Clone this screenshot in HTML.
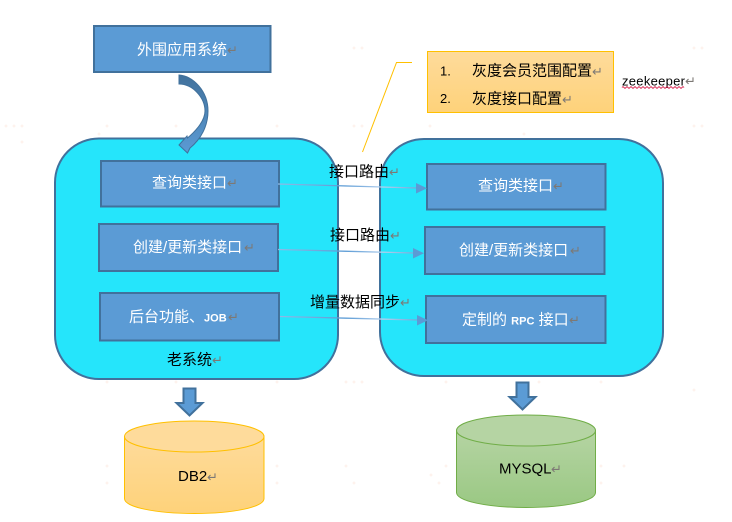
<!DOCTYPE html>
<html>
<head>
<meta charset="utf-8">
<style>
html,body{margin:0;padding:0;background:#fff;width:732px;height:522px;overflow:hidden}
svg{display:block}
text{font-family:"Liberation Sans","WenQuanYi Zen Hei","Noto Sans CJK SC",sans-serif;font-size:15px;fill:#000}
.w{fill:#fff}
.r{fill:#7d7975;font-size:13px;font-family:"DejaVu Sans",sans-serif}
</style>
</head>
<body>
<svg width="732" height="522" viewBox="0 0 732 522" xmlns="http://www.w3.org/2000/svg">
<defs>
<linearGradient id="o" x1="0" y1="0" x2="0" y2="1"><stop offset="0" stop-color="#fedb9b"/><stop offset="1" stop-color="#fed27a"/></linearGradient>
<linearGradient id="g" x1="0" y1="0" x2="0" y2="1"><stop offset="0" stop-color="#b5d4a3"/><stop offset="1" stop-color="#9ac883"/></linearGradient>
<linearGradient id="c" x1="0" y1="0" x2="0" y2="1"><stop offset="0" stop-color="#41719c"/><stop offset="1" stop-color="#5b9bd5"/></linearGradient>
<linearGradient id="l" gradientUnits="userSpaceOnUse" x1="278" y1="0" x2="428" y2="0"><stop offset="0" stop-color="#8fbbe6"/><stop offset="0.45" stop-color="#5b9bd5"/><stop offset="0.7" stop-color="#b4d0ee"/><stop offset="1" stop-color="#5b9bd5"/></linearGradient>
<path id="x" d="M-1.500,0H1.500M0,-1.500V1.500" stroke="#fdeee7" stroke-width="1" fill="none"/>
</defs>

<g>
<use href="#x" x="6" y="126"/><use href="#x" x="14" y="126"/><use href="#x" x="22" y="126"/><use href="#x" x="22" y="142"/>
<use href="#x" x="107" y="126"/><use href="#x" x="99" y="134"/><use href="#x" x="176" y="126"/><use href="#x" x="277" y="126"/>
<use href="#x" x="354" y="126"/><use href="#x" x="362" y="126"/><use href="#x" x="430" y="126"/><use href="#x" x="524" y="134"/><use href="#x" x="694" y="126"/><use href="#x" x="702" y="126"/>
<use href="#x" x="354" y="48"/><use href="#x" x="362" y="48"/><use href="#x" x="694" y="48"/><use href="#x" x="702" y="48"/>
<use href="#x" x="107" y="382"/><use href="#x" x="176" y="382"/><use href="#x" x="277" y="382"/>
<use href="#x" x="346" y="382"/><use href="#x" x="354" y="382"/><use href="#x" x="362" y="382"/><use href="#x" x="446" y="382"/><use href="#x" x="539" y="382"/><use href="#x" x="601" y="382"/><use href="#x" x="694" y="390"/>
<use href="#x" x="107" y="466"/><use href="#x" x="277" y="466"/><use href="#x" x="346" y="466"/><use href="#x" x="431" y="475"/><use href="#x" x="446" y="466"/><use href="#x" x="601" y="466"/><use href="#x" x="624" y="466"/>
<use href="#x" x="107" y="483"/><use href="#x" x="277" y="483"/><use href="#x" x="354" y="483"/><use href="#x" x="439" y="483"/><use href="#x" x="532" y="483"/><use href="#x" x="601" y="483"/>
</g>

<!-- containers -->
<rect x="55" y="138.500" width="283" height="240.500" rx="44" ry="44" fill="#25e5fb" stroke="#41719c" stroke-width="2"/>
<rect x="380" y="139" width="283" height="237" rx="44" ry="44" fill="#25e5fb" stroke="#41719c" stroke-width="2"/>

<!-- top box -->
<rect x="94" y="26" width="176.500" height="46" fill="#5b9bd5" stroke="#41719c" stroke-width="2"/>
<text class="w" x="137" y="54.500">外围应用系统</text><text class="r" x="227" y="54.500">↵</text>

<!-- curved arrow -->
<path d="M179,75 C193,76 208,91 208,111 C208,126 201,139 190,148 L187.500,153 L179,145 L187,136 L187.500,138 C197,130 205,120 205,111 C205,98 193,84 179,84 Z" fill="url(#c)" stroke="#41719c" stroke-width="1"/>

<!-- left boxes -->
<rect x="101" y="161" width="178" height="45.500" fill="#5b9bd5" stroke="#41719c" stroke-width="2"/>
<text class="w" x="152" y="187.500">查询类接口</text><text class="r" x="227" y="187.500">↵</text>
<rect x="99" y="224" width="179" height="47" fill="#5b9bd5" stroke="#41719c" stroke-width="2"/>
<text class="w" x="133" y="252">创建/更新类接口</text><text class="r" x="244" y="252">↵</text>
<rect x="100" y="293" width="179" height="47.500" fill="#5b9bd5" stroke="#41719c" stroke-width="2"/>
<text class="w" x="129" y="321.500">后台功能、<tspan font-size="11" font-weight="bold">JOB</tspan></text><text class="r" x="228" y="321.500">↵</text>
<text x="167" y="364.500">老系统</text><text class="r" x="212" y="364.500">↵</text>

<!-- right boxes -->
<rect x="427" y="164" width="178.500" height="45.500" fill="#5b9bd5" stroke="#41719c" stroke-width="2"/>
<text class="w" x="478" y="190.500">查询类接口</text><text class="r" x="553" y="190.500">↵</text>
<rect x="425" y="227" width="179.500" height="47" fill="#5b9bd5" stroke="#41719c" stroke-width="2"/>
<text class="w" x="459" y="255">创建/更新类接口</text><text class="r" x="570" y="255">↵</text>
<rect x="426" y="296" width="179.500" height="47" fill="#5b9bd5" stroke="#41719c" stroke-width="2"/>
<text class="w" x="462" y="324.500">定制的 <tspan font-size="11" font-weight="bold">RPC</tspan> 接口</text><text class="r" x="569" y="324.500">↵</text>

<!-- connectors -->
<g stroke="url(#l)" stroke-width="1.300" fill="none">
<line x1="278" y1="184" x2="417" y2="188"/>
<line x1="278" y1="249.500" x2="414" y2="253"/>
<line x1="280" y1="316.500" x2="418" y2="320"/>
</g>
<g fill="#5b9bd5">
<path d="M416,183 L427,188.200 L416,193.500 Z"/>
<path d="M413,248 L424,253.200 L413,258.500 Z"/>
<path d="M417,315 L428,320.200 L417,325.500 Z"/>
</g>

<!-- connector labels -->
<text x="329" y="176.500">接口路由</text><text class="r" x="389" y="176.500">↵</text>
<text x="330" y="240">接口路由</text><text class="r" x="390" y="240">↵</text>
<text x="310" y="307">增量数据同步</text><text class="r" x="400" y="307">↵</text>

<!-- callout -->
<rect x="427.500" y="51.500" width="186" height="61" fill="url(#o)" stroke="#ffc000" stroke-width="1"/>
<path d="M412,62.500 H396.500 L362.500,152" fill="none" stroke="#ffc000" stroke-width="1"/>
<text x="440" y="75.500" style="font-size:13px">1.</text>
<text x="472" y="75.500">灰度会员范围配置</text><text class="r" x="592" y="76">↵</text>
<text x="440" y="103" style="font-size:13px">2.</text>
<text x="472" y="103.500">灰度接口配置</text><text class="r" x="562" y="104">↵</text>
<text x="622" y="85.500" style="font-size:13px" textLength="63">zeekeeper</text><text class="r" x="685" y="85.500">↵</text>
<path d="M622,87.500 q1,-1.500 2,0 t2,0 t2,0 t2,0 t2,0 t2,0 t2,0 t2,0 t2,0 t2,0 t2,0 t2,0 t2,0 t2,0 t2,0 t2,0 t2,0 t2,0 t2,0 t2,0 t2,0 t2,0 t2,0 t2,0 t2,0 t2,0 t2,0 t2,0 t2,0 t2,0 t2,0" fill="none" stroke="#d9234f" stroke-width="1"/>

<!-- down arrows -->
<path d="M183.500,388.500 H195.500 V403 H202.500 L189.500,415.500 L176.500,403 H183.500 Z" fill="#5b9bd5" stroke="#41719c" stroke-width="2"/>
<path d="M516.500,382.500 H528.500 V397 H535.500 L522.500,409.500 L509.500,397 H516.500 Z" fill="#5b9bd5" stroke="#41719c" stroke-width="2"/>

<!-- DB2 -->
<path d="M124.500,436.500 V498.500 C124.500,507 155,513.500 194.500,513.500 C234,513.500 264,507 264,498.500 V436.500 Z" fill="url(#o)" stroke="#ffc000" stroke-width="1"/>
<ellipse cx="194.250" cy="436.500" rx="69.750" ry="15.500" fill="#fedb9b" stroke="#ffc000" stroke-width="1"/>
<text x="178" y="481">DB2</text><text class="r" x="207" y="481.500">↵</text>

<!-- MYSQL -->
<path d="M456.500,430.500 V492.500 C456.500,501 487,507.500 526,507.500 C565.500,507.500 595.500,501 595.500,492.500 V430.500 Z" fill="url(#g)" stroke="#70ad47" stroke-width="1"/>
<ellipse cx="526" cy="430.500" rx="69.500" ry="15.500" fill="#b5d4a3" stroke="#70ad47" stroke-width="1"/>
<text x="499" y="473.500">MYSQL</text><text class="r" x="551" y="473.500">↵</text>
</svg>
</body>
</html>
